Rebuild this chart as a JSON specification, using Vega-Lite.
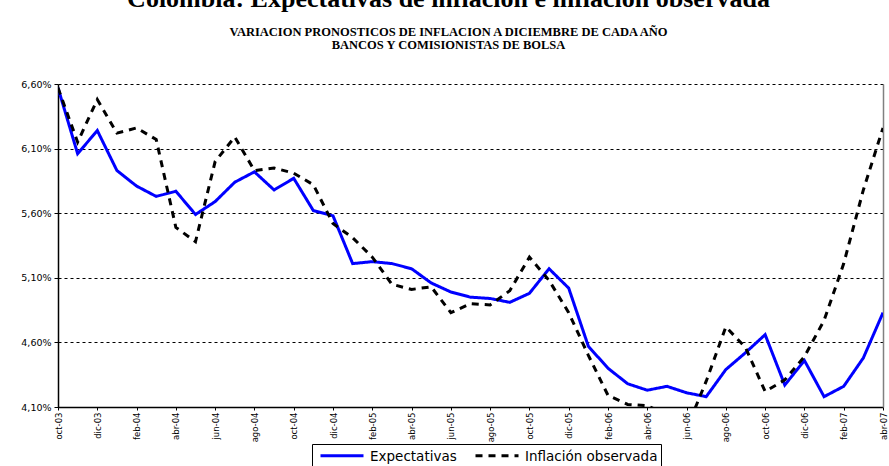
{
  "$schema": "https://vega.github.io/schema/vega-lite/v6.json",
  "width": 825,
  "height": 323,
  "autosize": {"type": "none"},
  "padding": {"left": 58, "top": 84, "right": 6, "bottom": 59},
  "background": "white",
  "title": {
    "text": "Colombia: Expectativas de inflación e inflación observada",
    "subtitle": ["VARIACION PRONOSTICOS DE INFLACION A DICIEMBRE DE CADA AÑO", "BANCOS Y COMISIONISTAS DE BOLSA"],
    "anchor": "middle",
    "frame": "group",
    "dx": -22,
    "font": "Liberation Serif",
    "fontSize": 26,
    "fontWeight": "bold",
    "color": "black",
    "subtitleFont": "Liberation Serif",
    "subtitleFontSize": 12.5,
    "subtitleFontWeight": "bold",
    "subtitleColor": "black",
    "subtitleLineHeight": 13,
    "subtitlePadding": 14,
    "offset": 28
  },
  "data": {
    "values": [
      {"mes": "oct-03", "Expectativas": 6.57, "Inflación observada": 6.57},
      {"mes": "nov-03", "Expectativas": 6.06, "Inflación observada": 6.15},
      {"mes": "dic-03", "Expectativas": 6.24, "Inflación observada": 6.48},
      {"mes": "ene-04", "Expectativas": 5.93, "Inflación observada": 6.22},
      {"mes": "feb-04", "Expectativas": 5.81, "Inflación observada": 6.26},
      {"mes": "mar-04", "Expectativas": 5.73, "Inflación observada": 6.17},
      {"mes": "abr-04", "Expectativas": 5.77, "Inflación observada": 5.49},
      {"mes": "may-04", "Expectativas": 5.59, "Inflación observada": 5.38},
      {"mes": "jun-04", "Expectativas": 5.69, "Inflación observada": 6.00},
      {"mes": "jul-04", "Expectativas": 5.84, "Inflación observada": 6.19},
      {"mes": "ago-04", "Expectativas": 5.92, "Inflación observada": 5.93},
      {"mes": "sep-04", "Expectativas": 5.78, "Inflación observada": 5.95},
      {"mes": "oct-04", "Expectativas": 5.87, "Inflación observada": 5.91},
      {"mes": "nov-04", "Expectativas": 5.62, "Inflación observada": 5.82},
      {"mes": "dic-04", "Expectativas": 5.58, "Inflación observada": 5.52},
      {"mes": "ene-05", "Expectativas": 5.21, "Inflación observada": 5.41},
      {"mes": "feb-05", "Expectativas": 5.225, "Inflación observada": 5.26},
      {"mes": "mar-05", "Expectativas": 5.21, "Inflación observada": 5.05},
      {"mes": "abr-05", "Expectativas": 5.17, "Inflación observada": 5.01},
      {"mes": "may-05", "Expectativas": 5.06, "Inflación observada": 5.03},
      {"mes": "jun-05", "Expectativas": 4.99, "Inflación observada": 4.83},
      {"mes": "jul-05", "Expectativas": 4.95, "Inflación observada": 4.90},
      {"mes": "ago-05", "Expectativas": 4.94, "Inflación observada": 4.89},
      {"mes": "sep-05", "Expectativas": 4.91, "Inflación observada": 5.00},
      {"mes": "oct-05", "Expectativas": 4.98, "Inflación observada": 5.26},
      {"mes": "nov-05", "Expectativas": 5.17, "Inflación observada": 5.08},
      {"mes": "dic-05", "Expectativas": 5.02, "Inflación observada": 4.83},
      {"mes": "ene-06", "Expectativas": 4.57, "Inflación observada": 4.50},
      {"mes": "feb-06", "Expectativas": 4.40, "Inflación observada": 4.19},
      {"mes": "mar-06", "Expectativas": 4.28, "Inflación observada": 4.12},
      {"mes": "abr-06", "Expectativas": 4.23, "Inflación observada": 4.11},
      {"mes": "may-06", "Expectativas": 4.26, "Inflación observada": 4.04},
      {"mes": "jun-06", "Expectativas": 4.21, "Inflación observada": 3.93},
      {"mes": "jul-06", "Expectativas": 4.18, "Inflación observada": 4.30},
      {"mes": "ago-06", "Expectativas": 4.39, "Inflación observada": 4.72},
      {"mes": "sep-06", "Expectativas": 4.52, "Inflación observada": 4.56},
      {"mes": "oct-06", "Expectativas": 4.66, "Inflación observada": 4.22},
      {"mes": "nov-06", "Expectativas": 4.27, "Inflación observada": 4.31},
      {"mes": "dic-06", "Expectativas": 4.46, "Inflación observada": 4.49},
      {"mes": "ene-07", "Expectativas": 4.18, "Inflación observada": 4.77},
      {"mes": "feb-07", "Expectativas": 4.26, "Inflación observada": 5.21},
      {"mes": "mar-07", "Expectativas": 4.48, "Inflación observada": 5.78},
      {"mes": "abr-07", "Expectativas": 4.83, "Inflación observada": 6.26}
    ]
  },
  "transform": [{"fold": ["Expectativas", "Inflación observada"], "as": ["serie", "valor"]}],
  "layer": [
    {
      "mark": {"type": "line", "clip": true, "strokeWidth": 3},
      "encoding": {
        "x": {
          "field": "mes", "type": "ordinal", "sort": null,
          "scale": {"type": "point", "padding": 0},
          "axis": {
            "title": null,
            "values": ["oct-03","dic-03","feb-04","abr-04","jun-04","ago-04","oct-04","dic-04","feb-05","abr-05","jun-05","ago-05","oct-05","dic-05","feb-06","abr-06","jun-06","ago-06","oct-06","dic-06","feb-07","abr-07"],
            "labelAngle": -90,
            "labelFont": "DejaVu Sans",
            "labelFontSize": 8.5,
            "labelColor": "black",
            "labelPadding": 2,
            "tickSize": 3,
            "tickColor": "black",
            "domainColor": "black",
            "domainWidth": 1.5,
            "grid": false
          }
        },
        "y": {
          "field": "valor", "type": "quantitative",
          "scale": {"domain": [4.1, 6.6], "nice": false, "zero": false},
          "axis": {
            "title": null,
            "values": [4.1, 4.6, 5.1, 5.6, 6.1, 6.6],
            "labelExpr": "replace(format(datum.value, '.2f'), '.', ',') + '%'",
            "labelFont": "DejaVu Sans",
            "labelFontSize": 9.5,
            "labelColor": "black",
            "labelPadding": 3,
            "tickSize": 4,
            "tickColor": "black",
            "domainColor": "black",
            "domainWidth": 1.5,
            "grid": true,
            "gridColor": "black",
            "gridDash": [3, 3],
            "gridWidth": 1.2,
            "gridOpacity": 1
          }
        },
        "color": {
          "field": "serie", "type": "nominal",
          "scale": {"domain": ["Expectativas", "Inflación observada"], "range": ["#0000FF", "#000000"]},
          "legend": {
            "title": null,
            "orient": "none",
            "legendX": 254,
            "legendY": 360,
            "direction": "horizontal",
            "symbolType": "M-0.68,-0.44H2.76",
            "symbolSize": 625,
            "symbolStrokeWidth": 3,
            "labelFont": "DejaVu Sans",
            "labelFontSize": 13.5,
            "labelColor": "black",
            "labelBaseline": "alphabetic",
            "labelOffset": 27,
            "columnPadding": 12,
            "padding": 3,
            "strokeColor": "black",
            "fillColor": "white"
          }
        },
        "strokeDash": {
          "field": "serie", "type": "nominal",
          "scale": {"domain": ["Expectativas", "Inflación observada"], "range": [[1, 0], [7, 6]]}
        }
      }
    },
    {
      "mark": {"type": "line", "opacity": 0},
      "encoding": {
        "x": {"field": "mes", "type": "ordinal", "sort": null, "scale": {"type": "point", "padding": 0}},
        "y": {
          "field": "valor", "type": "quantitative",
          "scale": {"domain": [4.1, 6.6], "nice": false, "zero": false},
          "axis": {"orient": "right", "title": null, "labels": false, "ticks": false, "grid": false, "domainColor": "#808080", "domainWidth": 1.5}
        },
        "detail": {"field": "serie"}
      }
    }
  ],
  "resolve": {"axis": {"y": "independent"}},
  "config": {"view": {"stroke": null}}
}
